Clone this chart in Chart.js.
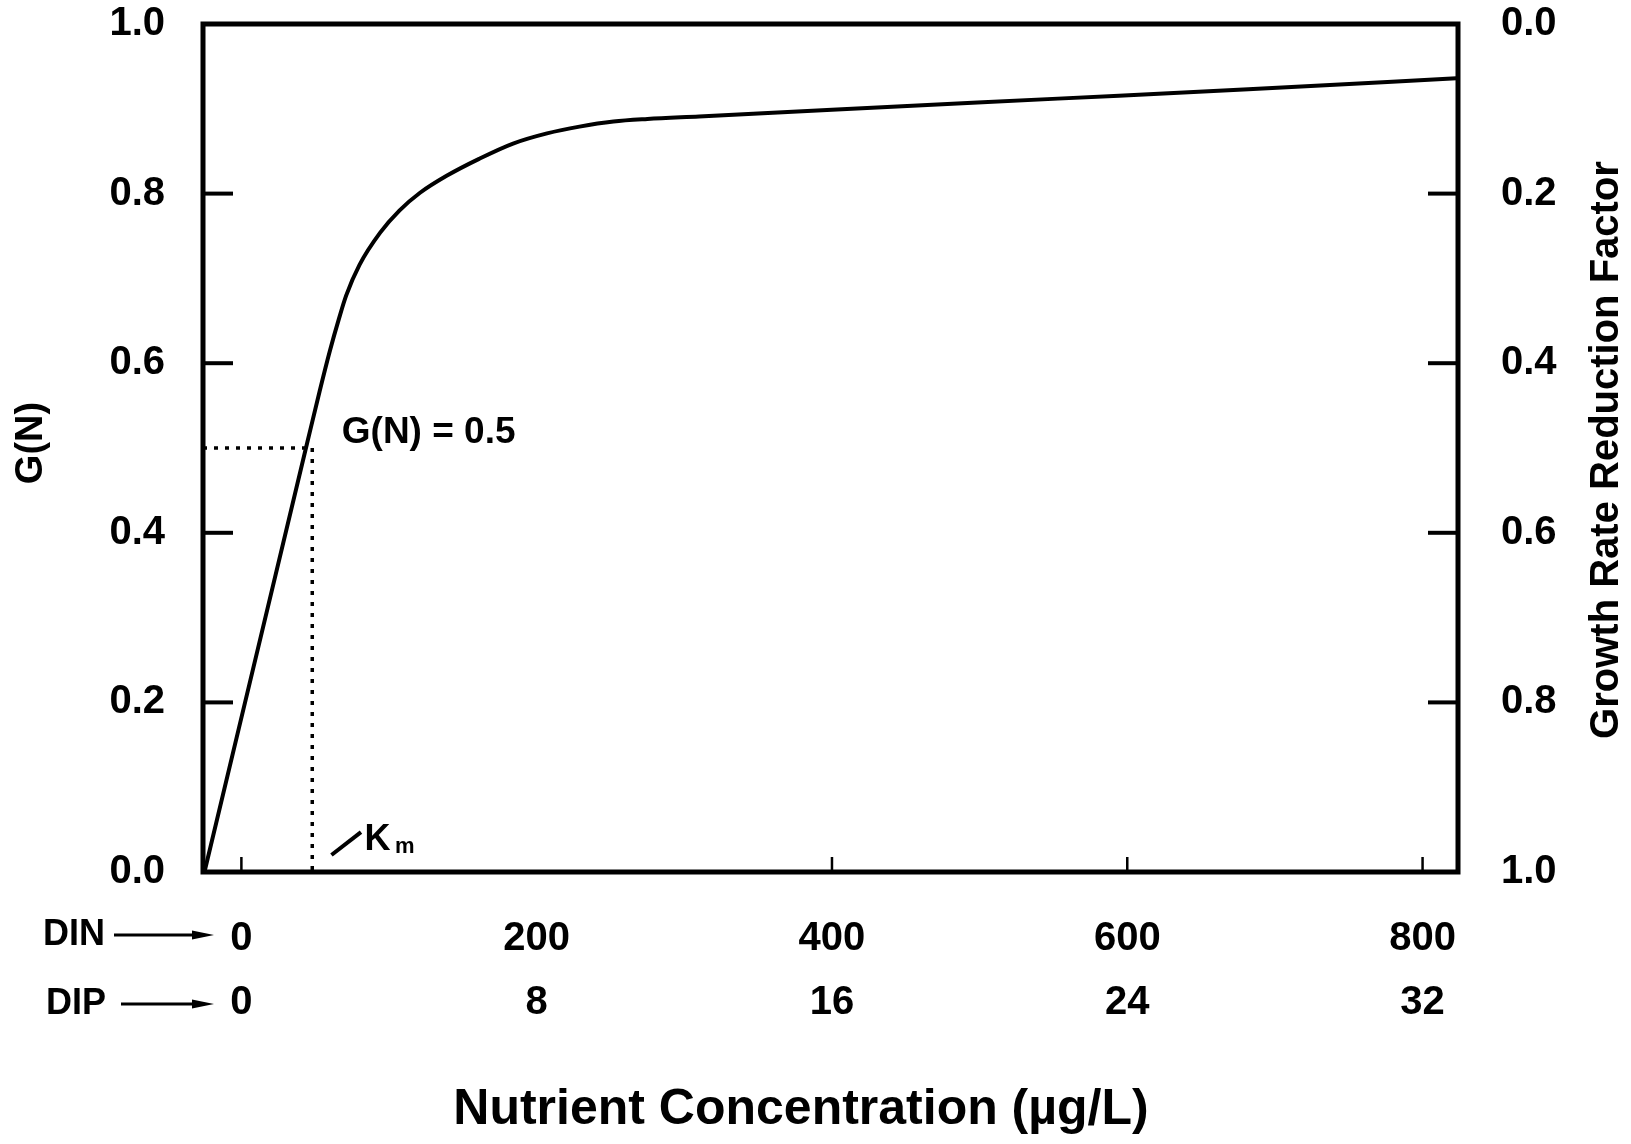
<!DOCTYPE html>
<html>
<head>
<meta charset="utf-8">
<script src="https://cdn.jsdelivr.net/npm/chart.js@4.4.1/dist/chart.umd.min.js"></script>
<style>
  html, body { margin: 0; padding: 0; background: #fff; }
</style>
</head>
<body>
<canvas id="chart" width="1631" height="1144"></canvas>
<script>
// curve: DIN (ug/L) vs G(N)
const din = [-25, 44.7, 53, 60, 66, 71, 80, 94, 107, 121, 139, 161, 184, 207, 229, 252, 275, 310, 400, 553, 682, 823];
const growth = [0, 0.507, 0.567, 0.615, 0.652, 0.680, 0.716, 0.754, 0.780, 0.801, 0.821, 0.841, 0.859, 0.871, 0.879, 0.885, 0.888, 0.891, 0.899, 0.912, 0.923, 0.936];

const dinTicks = [0, 200, 400, 600, 800];
const dipTicks = [0, 8, 16, 24, 32];
const dinMarks = [0, 400, 600, 800];
const gTicks = [0, 0.2, 0.4, 0.6, 0.8, 1.0];
const gMarks = [0.2, 0.4, 0.6, 0.8];

const halfG = 0.5;
const halfCrossDin = 44;
const kmDin = 48;
const kmSlash = [{x: 61, y: 0.02}, {x: 81, y: 0.047}];

const FONT = '"Liberation Sans", Arial, sans-serif';

const decor = {
    id: 'decor',
    afterDatasetsDraw(chart) {
        const c = chart.ctx;
        const a = chart.chartArea;
        const x = chart.scales.x, y = chart.scales.y, y2 = chart.scales.y2;
        c.save();
        c.strokeStyle = '#000';
        c.fillStyle = '#000';

        // frame
        c.lineWidth = 5;
        c.strokeRect(a.left, a.top, a.right - a.left, a.bottom - a.top);

        // inward ticks
        c.lineWidth = 4;
        gMarks.forEach(v => {
            let py = y.getPixelForValue(v);
            c.beginPath(); c.moveTo(a.left, py); c.lineTo(a.left + 30, py); c.stroke();
            py = y2.getPixelForValue(v);
            c.beginPath(); c.moveTo(a.right, py); c.lineTo(a.right - 30, py); c.stroke();
        });
        c.lineWidth = 2.5;
        dinMarks.forEach(v => {
            const px = x.getPixelForValue(v);
            c.beginPath(); c.moveTo(px, a.bottom); c.lineTo(px, a.bottom - 15); c.stroke();
        });

        // annotations
        c.textBaseline = 'middle';
        c.textAlign = 'left';
        c.font = 'bold 37px ' + FONT;
        c.fillText('G(N) = 0.5', x.getPixelForValue(68), y.getPixelForValue(0.518));

        c.textBaseline = 'alphabetic';
        c.font = 'bold 36px ' + FONT;
        c.fillText('K', x.getPixelForValue(83.4), y.getPixelForValue(0.026));
        c.font = 'bold 22px ' + FONT;
        c.fillText('m', x.getPixelForValue(104), y.getPixelForValue(0.022));

        // axis titles
        c.textAlign = 'center';
        c.textBaseline = 'middle';
        c.font = 'bold 38px ' + FONT;
        c.save(); c.translate(32, 443); c.rotate(-Math.PI / 2); c.fillText('G(N)', 0, 0); c.restore();
        c.font = 'bold 40px ' + FONT;
        c.save(); c.translate(1607, 450); c.rotate(-Math.PI / 2); c.fillText('Growth Rate Reduction Factor', 0, 0); c.restore();
        c.font = 'bold 50px ' + FONT;
        c.fillText('Nutrient Concentration (\u00b5g/L)', 801, a.bottom + 238);

        // DIN / DIP row labels with arrows
        c.textAlign = 'left';
        c.font = 'bold 36px ' + FONT;
        const rows = [['DIN', a.bottom + 63, 114, 43], ['DIP', a.bottom + 132, 121, 46]];
        rows.forEach(([txt, ty, x0, tx]) => {
            c.fillText(txt, tx, ty);
            c.lineWidth = 3;
            c.beginPath(); c.moveTo(x0, ty); c.lineTo(196, ty); c.stroke();
            c.beginPath();
            c.moveTo(214, ty); c.lineTo(192, ty - 4.5); c.lineTo(192, ty + 4.5); c.closePath();
            c.fill();
        });
        c.restore();
    }
};

// drop the label overflow padding so the plot box stays where the figure has it
const noPad = s => { s.paddingTop = 0; s.paddingBottom = 0; s.paddingLeft = 0; s.paddingRight = 0; };

const ctx = document.getElementById('chart').getContext('2d');

const chart = new Chart(ctx, {
    type: 'scatter',
    data: {
        datasets: [{
            data: din.map((v, i) => ({x: v, y: growth[i]})),
            showLine: true,
            borderColor: '#000',
            borderWidth: 4,
            pointRadius: 0,
            cubicInterpolationMode: 'monotone'
        }, {
            data: [{x: -26, y: halfG}, {x: halfCrossDin, y: halfG}],
            showLine: true,
            borderColor: '#000',
            borderWidth: 3.5,
            borderDash: [4, 7],
            pointRadius: 0
        }, {
            data: [{x: kmDin, y: halfG}, {x: kmDin, y: 0}],
            showLine: true,
            borderColor: '#000',
            borderWidth: 3.5,
            borderDash: [4, 7],
            pointRadius: 0
        }, {
            data: kmSlash,
            showLine: true,
            borderColor: '#000',
            borderWidth: 4,
            pointRadius: 0
        }]
    },
    options: {
        responsive: false,
        animation: false,
        devicePixelRatio: 1,
        layout: { padding: { top: 24, left: 0, right: 0, bottom: 0 } },
        plugins: { legend: { display: false }, tooltip: { enabled: false } },
        scales: {
            x: {
                type: 'linear',
                position: 'bottom',
                min: -26,
                max: 824,
                afterFit: s => { s.height = 272; noPad(s); },
                afterBuildTicks: s => { s.ticks = dinTicks.map(v => ({value: v})); },
                grid: { display: false },
                border: { display: false },
                ticks: {
                    autoSkip: false,
                    maxRotation: 0,
                    padding: 27,
                    color: '#000',
                    font: { family: FONT, size: 40, weight: 'bold', lineHeight: 1.6 },
                    callback: v => [String(v), String(dipTicks[dinTicks.indexOf(v)])]
                }
            },
            y: {
                position: 'left',
                min: 0,
                max: 1,
                afterFit: s => { s.width = 203; noPad(s); },
                afterBuildTicks: s => { s.ticks = gTicks.map(v => ({value: v})); },
                grid: { display: false },
                border: { display: false },
                ticks: {
                    padding: 30,
                    color: '#000',
                    font: { family: FONT, size: 40, weight: 'bold', lineHeight: 1 },
                    callback: v => v.toFixed(1)
                }
            },
            y2: {
                position: 'right',
                min: 0,
                max: 1,
                reverse: true,
                afterFit: s => { s.width = 173; noPad(s); },
                afterBuildTicks: s => { s.ticks = gTicks.map(v => ({value: v})); },
                grid: { display: false },
                border: { display: false },
                ticks: {
                    padding: 35,
                    color: '#000',
                    font: { family: FONT, size: 40, weight: 'bold', lineHeight: 1 },
                    callback: v => v.toFixed(1)
                }
            }
        }
    },
    plugins: [decor]
});
</script>
</body>
</html>
